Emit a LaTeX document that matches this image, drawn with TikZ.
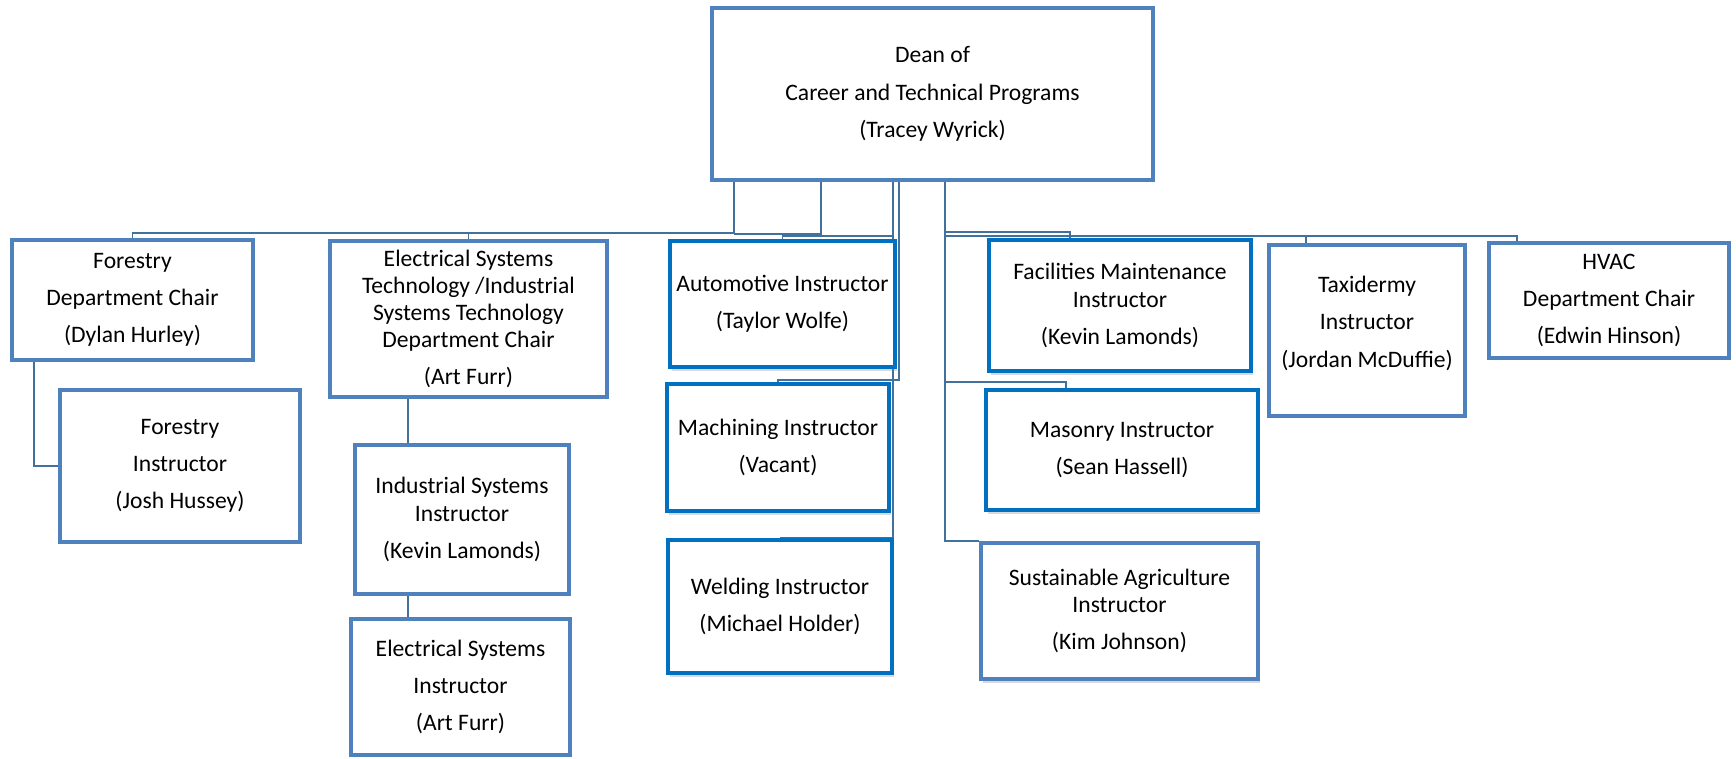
\documentclass[tikz,border=0pt]{standalone}
\usepackage{fontspec}
\setmainfont{Carlito}
\usetikzlibrary{shadows,backgrounds}

\definecolor{lblue}{HTML}{4F81BD}
\definecolor{dblue}{HTML}{0070C0}
\definecolor{linkblue}{HTML}{41719C}

\tikzset{
  box/.style={draw=lblue, line width=2pt, fill=white, align=center, inner sep=0pt,
    font=\fontsize{11.8}{13.6}\selectfont},
  dbox/.style={box, draw=dblue, line width=2.2pt,
    drop shadow={opacity=0.3, shadow xshift=1.2pt, shadow yshift=-1.8pt}},
  conn/.style={draw=linkblue, line width=0.75pt},
}

\begin{document}
\begin{tikzpicture}[x=0.5pt,y=-0.5pt]
	    \useasboundingbox (0,0) rectangle (1736,759);
	    % top
	    \node[box, minimum width=220.5pt, minimum height=86pt] (dean) at (932.5,94) {Dean of\\[5pt]Career and Technical Programs\\[5pt](Tracey Wyrick)};
	    % left branch
	    \node[box, minimum width=120.5pt, minimum height=60pt] (fchair) at (132.5,300) {Forestry\\[5pt]Department Chair\\[5pt](Dylan Hurley)};
	    \node[box, minimum width=120pt, minimum height=76pt] (finstr) at (180,466) {Forestry\\[5pt]Instructor\\[5pt](Josh Hussey)};
	    \node[box, minimum width=138.5pt, minimum height=78pt] (echair) at (468.5,319) {Electrical Systems\\Technology /Industrial\\Systems Technology\\Department Chair\\[5pt](Art Furr)};
	    \node[box, minimum width=107pt, minimum height=74.5pt] (iinstr) at (462,519.5) {Industrial Systems\\Instructor\\[5pt](Kevin Lamonds)};
	    \node[box, minimum width=109.5pt, minimum height=68pt] (einstr) at (460.5,687) {Electrical Systems\\[5pt]Instructor\\[5pt](Art Furr)};
	    % middle column
	    \node[dbox, minimum width=112.5pt, minimum height=63pt] (auto) at (782.5,304) {Automotive Instructor\\[5pt](Taylor Wolfe)};
	    \node[dbox, minimum width=111pt, minimum height=63.5pt] (mach) at (778,447.5) {Machining Instructor\\[5pt](Vacant)};
	    \node[dbox, minimum width=112pt, minimum height=66.5pt] (weld) at (780,606.5) {Welding Instructor\\[5pt](Michael Holder)};
	    % right branch
	    \node[dbox, minimum width=131pt, minimum height=65.5pt] (facil) at (1120,305.5) {Facilities Maintenance\\Instructor\\[5pt](Kevin Lamonds)};
	    \node[dbox, minimum width=136pt, minimum height=60pt] (mason) at (1122,450) {Masonry Instructor\\[5pt](Sean Hassell)};
	    \node[box, minimum width=138.5pt, minimum height=68pt, drop shadow={opacity=0.3, shadow xshift=1.2pt, shadow yshift=-1.8pt}] (sustag) at (1119.5,611) {Sustainable Agriculture\\Instructor\\[5pt](Kim Johnson)};
	    \node[box, minimum width=98pt, minimum height=85.5pt] (taxi) at (1367,330.5) {Taxidermy\\[5pt]Instructor\\[5pt](Jordan McDuffie)\\[-4.8pt]};
	    \node[box, minimum width=120pt, minimum height=57.5pt] (hvac) at (1609,300.5) {HVAC\\[5pt]Department Chair\\[5pt](Edwin Hinson)};

	    \coordinate (jA) at (734,233);
	    \coordinate (jB) at (821,234);
	    \coordinate (jC) at (893,236);
	    \coordinate (jD) at (899,380);
	    \coordinate (jE) at (945,232);
	    \coordinate (jF) at (945,236);
	    \coordinate (jG) at (945,382);
	    \coordinate (fline) at ([xshift=12pt]fchair.south west);
	    \coordinate (eline) at ([xshift=-27pt]iinstr.north);
	    \coordinate (eline2) at ([xshift=-27pt]iinstr.south);

	    \begin{pgfonlayer}{background}
	    \draw[conn] (dean.south -| jA) -- (jA) -| (fchair.north);
	    \draw[conn] (jA) -| (echair.north);
	    \draw[conn] (dean.south -| jB) -- (jB) -- (jA |- jB);
	    \draw[conn] (dean.south -| jC) -- (jC) -| (auto.north);
	    \draw[conn] (jC) |- (weld.north);
	    \draw[conn] (dean.south -| jD) -- (jD) -| (mach.north);
	    \draw[conn] (dean.south -| jE) |- (sustag.north west);
	    \draw[conn] (jE) -| ([xshift=-25pt]facil.north);
	    \draw[conn] (jF) -| ([xshift=-30.5pt]taxi.north);
	    \draw[conn] (jF) -| ([xshift=-46pt]hvac.north);
	    \draw[conn] (jG) -| ([xshift=-28pt]mason.north);
	    \draw[conn] (fline) |- (finstr.west);
	    \draw[conn] (eline |- echair.south) -- (eline);
	    \draw[conn] (eline2) -- (eline2 |- einstr.north);
	    \end{pgfonlayer}
	\end{tikzpicture}
\end{document}
